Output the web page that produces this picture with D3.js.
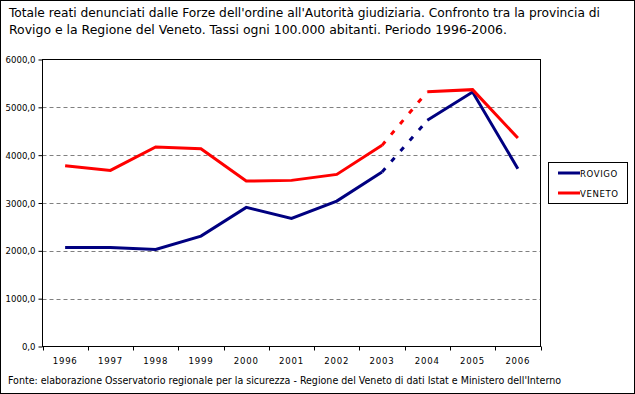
<!DOCTYPE html>
<html>
<head>
<meta charset="utf-8">
<script src="https://cdn.jsdelivr.net/npm/d3@7"></script>
<style>
  body { margin: 0; background: #fff; }
  svg text { font-family: "DejaVu Sans Condensed", "DejaVu Sans", sans-serif; fill: #000; }
</style>
</head>
<body>
<svg width="635" height="394"></svg>
<script>
// dati
const anni = ["1996", "1997", "1998", "1999", "2000", "2001", "2002", "2003", "2004", "2005", "2006"];
const rovigo = [2071, 2070, 2030, 2308, 2908, 2678, 3040, 3646, 4728, 5320, 3717];
const veneto = [3780, 3682, 4170, 4136, 3458, 3473, 3598, 4205, 5328, 5370, 4358];
const yTicks = [0, 1000, 2000, 3000, 4000, 5000, 6000];
const serie = [
    { nome: "ROVIGO", valori: rovigo, colore: "#000080" },
    { nome: "VENETO", valori: veneto, colore: "#ff0000" }
];
// segmento tratteggiato tra questi due anni
const tratteggioDa = "2003", tratteggioA = "2004";

const svg = d3.select("svg");

// cornice esterna
svg.append("rect")
    .attr("x", 0.5).attr("y", 0.5)
    .attr("width", 634).attr("height", 393)
    .attr("fill", "#fff").attr("stroke", "#000");

// titolo
const titolo = [
    "Totale reati denunciati dalle Forze dell'ordine all'Autorità giudiziaria. Confronto tra la provincia di",
    "Rovigo e la Regione del Veneto. Tassi ogni 100.000 abitanti. Periodo 1996-2006."
];
const tLen = [591, 498];
titolo.forEach((t, i) => {
    svg.append("text")
        .attr("x", 9).attr("y", 17 + i * 17)
        .attr("font-size", 12.5)
        .attr("textLength", tLen[i])
        .attr("lengthAdjust", "spacingAndGlyphs")
        .text(t);
});

// area del grafico
const pLeft = 42.5, pRight = 540.5, pTop = 59.5, pBottom = 346.5;

const x = d3.scaleBand().domain(anni).range([pLeft, pRight]);
const y = d3.scaleLinear().domain([0, 6000]).range([pBottom, pTop]);

// griglia
svg.append("g").selectAll("line")
    .data(yTicks.filter(d => d > 0 && d < 6000))
    .enter().append("line")
    .attr("x1", pLeft).attr("x2", pRight)
    .attr("y1", d => Math.round(y(d)) + 0.5).attr("y2", d => Math.round(y(d)) + 0.5)
    .attr("stroke", "#808080")
    .attr("stroke-dasharray", "4,3");

// bordo area
svg.append("rect")
    .attr("x", pLeft).attr("y", pTop)
    .attr("width", pRight - pLeft).attr("height", pBottom - pTop)
    .attr("fill", "none").attr("stroke", "#000");

// asse y
const fmt = d => d3.format(".1f")(d).replace(".", ",");
const yAxis = svg.append("g")
    .attr("transform", `translate(${pLeft},0)`)
    .call(d3.axisLeft(y).tickValues(yTicks).tickSize(4).tickPadding(3).tickFormat(fmt));
yAxis.select(".domain").remove();
yAxis.selectAll("text").attr("font-size", 9.5).attr("font-family", "DejaVu Sans Condensed");

// asse x: tacche tra le categorie
svg.append("g").selectAll("line")
    .data(d3.range(anni.length + 1))
    .enter().append("line")
    .attr("x1", i => Math.round(pLeft + i * x.step()) + 0.5)
    .attr("x2", i => Math.round(pLeft + i * x.step()) + 0.5)
    .attr("y1", pBottom).attr("y2", pBottom + 4)
    .attr("stroke", "#000");

svg.append("g").selectAll("text")
    .data(anni)
    .enter().append("text")
    .attr("x", d => x(d) + x.bandwidth() / 2)
    .attr("y", 364)
    .attr("text-anchor", "middle")
    .attr("font-size", 9.5)
    .attr("letter-spacing", 0.8)
    .text(d => d);

// linee
const line = d3.line()
    .x(d => x(d.anno) + x.bandwidth() / 2)
    .y(d => y(d.v));

serie.forEach(s => {
    const punti = anni.map((a, i) => ({ anno: a, v: s.valori[i] }));
    const i0 = anni.indexOf(tratteggioDa), i1 = anni.indexOf(tratteggioA);
    svg.append("path")
        .datum(punti.slice(0, i0 + 1))
        .attr("d", line)
        .attr("fill", "none").attr("stroke", s.colore).attr("stroke-width", 3);
    svg.append("path")
        .datum(punti.slice(i0, i1 + 1))
        .attr("d", line)
        .attr("fill", "none").attr("stroke", s.colore).attr("stroke-width", 3)
        .attr("stroke-dasharray", "5,9");
    svg.append("path")
        .datum(punti.slice(i1))
        .attr("d", line)
        .attr("fill", "none").attr("stroke", s.colore).attr("stroke-width", 3);
});

// legenda
const leg = svg.append("g");
leg.append("rect")
    .attr("x", 548.5).attr("y", 162.5)
    .attr("width", 79).attr("height", 41)
    .attr("fill", "#fff").attr("stroke", "#000");
serie.forEach((s, i) => {
    const yy = 173 + i * 20;
    leg.append("line")
        .attr("x1", 558).attr("x2", 580)
        .attr("y1", yy).attr("y2", yy)
        .attr("stroke", s.colore).attr("stroke-width", 3);
    leg.append("text")
        .attr("x", 580).attr("y", yy + 3.5)
        .attr("font-size", 9.5)
        .attr("letter-spacing", 0.6)
        .text(s.nome);
});

// fonte
svg.append("text")
    .attr("x", 8).attr("y", 384)
    .attr("font-size", 10)
    .attr("textLength", 553)
    .attr("lengthAdjust", "spacingAndGlyphs")
    .text("Fonte: elaborazione Osservatorio regionale per la sicurezza - Regione del Veneto di dati Istat e Ministero dell'Interno");
</script>
</body>
</html>
